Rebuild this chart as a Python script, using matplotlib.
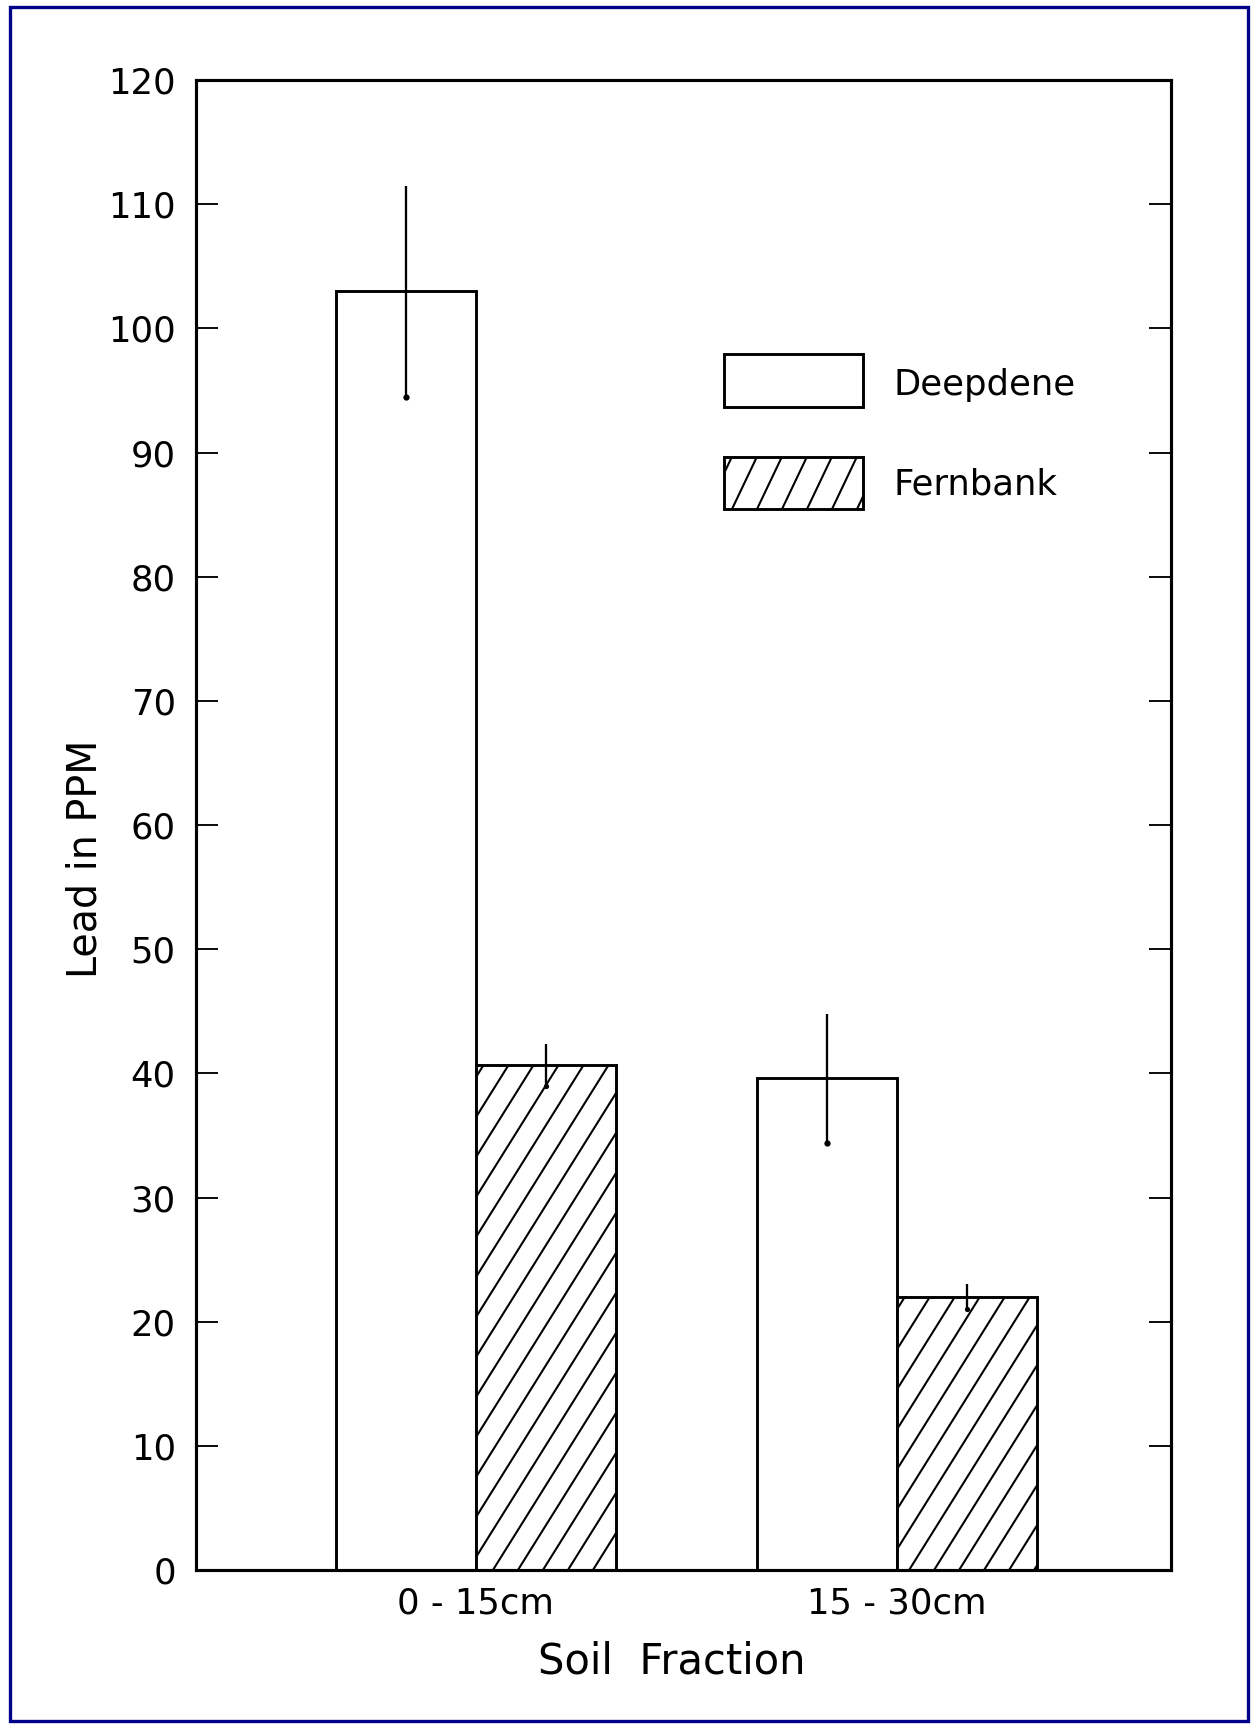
import numpy as np
import matplotlib.pyplot as plt
from matplotlib.patches import Rectangle
from matplotlib.lines import Line2D
from matplotlib.transforms import IdentityTransform

# Lead concentrations (ppm)
fractions = ['0 - 15cm', '15 - 30cm']
sites = ['Deepdene', 'Fernbank']
deepdene = [103.0, 39.6]
deepdene_err = [8.5, 5.2]
fernbank = [40.7, 22.0]
fernbank_err = [1.7, 1.0]
yticks = list(range(0, 121, 10))

plt.rcParams['font.family'] = 'DejaVu Sans'

DPI = 150
fig = plt.figure(figsize=(1255 / DPI, 1728 / DPI), dpi=DPI)
ax = fig.add_axes([0.156, 0.0914, 0.777, 0.8623])


def steep_hatch(patch, spacing=25, slope=1.6, lw=1.0):
    # hand-drawn looking diagonal hatch, steeper than matplotlib's 45 deg one
    x0, y0, x1, y1 = patch.get_window_extent().extents
    h = y1 - y0
    for c in np.arange(x0 - h / slope + 8, x1, spacing):
        ln = Line2D([c, c + h / slope], [y0, y1], transform=IdentityTransform(),
                    color='black', lw=lw, solid_capstyle='butt')
        ln.set_clip_path(patch)
        fig.add_artist(ln)


x = np.arange(len(fractions))
w = 0.333
bars_d = ax.bar(x - w / 2, deepdene, w, color='white', edgecolor='black', linewidth=1.4, zorder=2)
bars_f = ax.bar(x + w / 2, fernbank, w, color='white', edgecolor='black', linewidth=1.4, zorder=2)

ax.errorbar(x - w / 2, deepdene, yerr=deepdene_err, fmt='none', ecolor='black',
            elinewidth=1.1, capsize=0, zorder=3)
ax.errorbar(x + w / 2, fernbank, yerr=fernbank_err, fmt='none', ecolor='black',
            elinewidth=1.1, capsize=0, zorder=3)
# little pen dots at the lower end of each error bar
ax.plot(x - w / 2, np.array(deepdene) - np.array(deepdene_err), 'k.', ms=4, zorder=3)
ax.plot(x + w / 2, np.array(fernbank) - np.array(fernbank_err), 'k.', ms=3, zorder=3)

ax.set_xlim(-0.665, 1.651)
ax.set_ylim(0, 120)
ax.set_yticks(yticks)
ax.set_xticks(x)
ax.set_xticklabels(fractions)

ax.tick_params(axis='y', direction='in', length=10.5, width=0.9, left=True, right=True,
               labelsize=17, pad=9.6)
ax.tick_params(axis='x', length=0, labelsize=17, pad=8)
for s in ax.spines.values():
    s.set_linewidth(1.5)

ax.set_ylabel('Lead in PPM', fontsize=19)
ax.yaxis.set_label_coords(-0.093, 0.477)
ax.set_xlabel('Soil  Fraction', fontsize=20)
ax.xaxis.set_label_coords(0.488, -0.047)

for b in bars_f:
    steep_hatch(b)

# hand-made legend boxes
box_d = Rectangle((0.5415, 0.7805), 0.1425, 0.0355, transform=ax.transAxes,
                  fc='white', ec='black', lw=1.4)
box_f = Rectangle((0.5415, 0.712), 0.1425, 0.0350, transform=ax.transAxes,
                  fc='white', ec='black', lw=1.4)
ax.add_patch(box_d)
ax.add_patch(box_f)
steep_hatch(box_f, slope=2.1)
ax.text(0.716, 0.7805 + 0.0355 / 2 - 0.003, sites[0], transform=ax.transAxes, fontsize=17,
        va='center', ha='left')
ax.text(0.716, 0.712 + 0.035 / 2 - 0.001, sites[1], transform=ax.transAxes, fontsize=17,
        va='center', ha='left')

# dark blue frame around the page
fig.add_artist(Rectangle((10 / 1255, 1 - 1721 / 1728), 1238 / 1255, 1714 / 1728,
                         transform=fig.transFigure, fill=False, ec='#00008b', lw=1.6))

fig.savefig('out.png', dpi=DPI)
